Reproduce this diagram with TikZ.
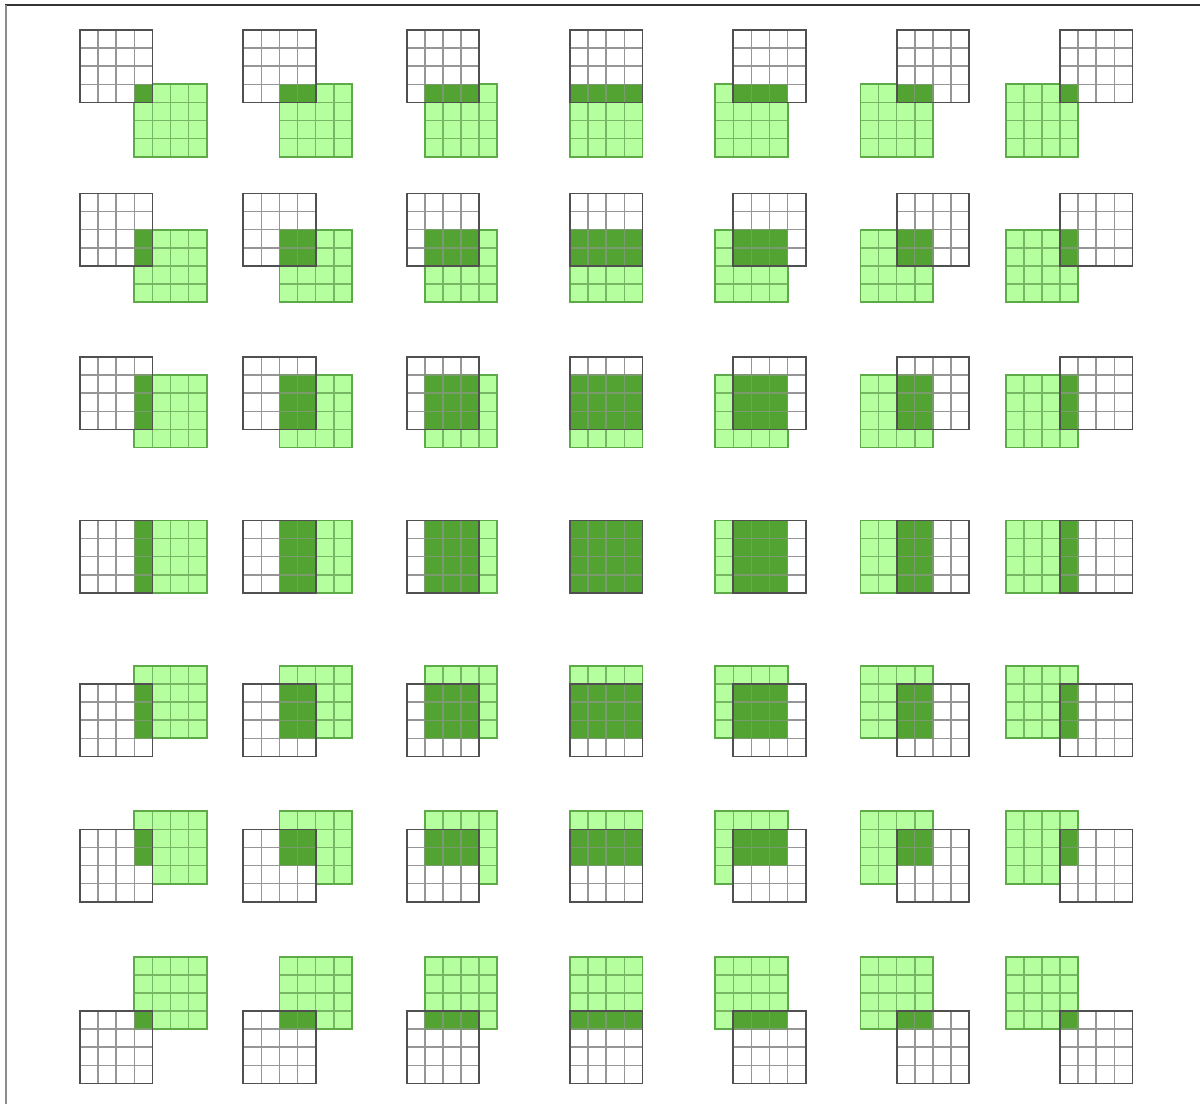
\documentclass[tikz,border=0pt]{standalone}
\usepackage{xcolor}
\usepackage{tikz}
\definecolor{kernelfill}{HTML}{B5FF9E}
\definecolor{kernelink}{HTML}{5FAA48}
\definecolor{overlapfill}{HTML}{52A332}
\definecolor{inputline}{HTML}{969696}
\definecolor{inputink}{HTML}{505050}

\begin{document}
\begin{tikzpicture}[
  x=0.03cm, y=-0.03cm,
  kernelcell/.style={fill=kernelfill, draw=kernelink!85, line width=1.3pt},
  kernelbox/.style={draw=kernelink, line width=1.5pt},
  inputcell/.style={fill=white, draw=inputline, line width=1.3pt},
  inputbox/.style={draw=inputink, line width=1.5pt},
  hitcell/.style={fill=overlapfill, draw=inputline!60!overlapfill, line width=1.2pt},
  frameline/.style={line width=1.4pt}
]
\useasboundingbox (0,0) rectangle (1200,1104);

% frame
\draw[frameline, draw=black!80] (5,5) -- (1200,5);
\draw[frameline, draw=black!45] (6,5) -- (6,1104);

\def\cell{18.1}
\foreach \r in {0,...,6}{
  \foreach \c in {0,...,6}{
    \pgfmathsetmacro{\bx}{80+\c*163.33}
    \pgfmathsetmacro{\by}{30+\r*163.5}
    \pgfmathtruncatemacro{\dx}{3-\c}
    \pgfmathtruncatemacro{\dy}{3-\r}
    \pgfmathsetmacro{\gx}{\bx+\dx*\cell}
    \pgfmathsetmacro{\gy}{\by+\dy*\cell}
    % input grid of the sixth row sits one cell higher
    \pgfmathsetmacro{\wy}{\r==5 ? \by-\cell : \by}
    % kernel
    \foreach \i in {0,...,3}{
      \foreach \j in {0,...,3}{
        \draw[kernelcell] ({\gx+\i*\cell},{\gy+\j*\cell}) rectangle +(\cell,\cell);
      }
    }
    \draw[kernelbox] (\gx,\gy) rectangle +(4*\cell,4*\cell);
    % input
    \foreach \i in {0,...,3}{
      \foreach \j in {0,...,3}{
        \draw[inputcell] ({\bx+\i*\cell},{\wy+\j*\cell}) rectangle +(\cell,\cell);
      }
    }
    % overlap
    \foreach \i in {0,...,3}{
      \foreach \j in {0,...,3}{
        \pgfmathtruncatemacro{\hit}{(\i-\dx>=0)&&(\i-\dx<=3)&&(\j-\dy>=0)&&(\j-\dy<=3)}
        \ifnum\hit=1
          \draw[hitcell] ({\bx+\i*\cell},{\wy+\j*\cell}) rectangle +(\cell,\cell);
        \fi
      }
    }
    \draw[inputbox] (\bx,\wy) rectangle +(4*\cell,4*\cell);
  }
}
\end{tikzpicture}
\end{document}
